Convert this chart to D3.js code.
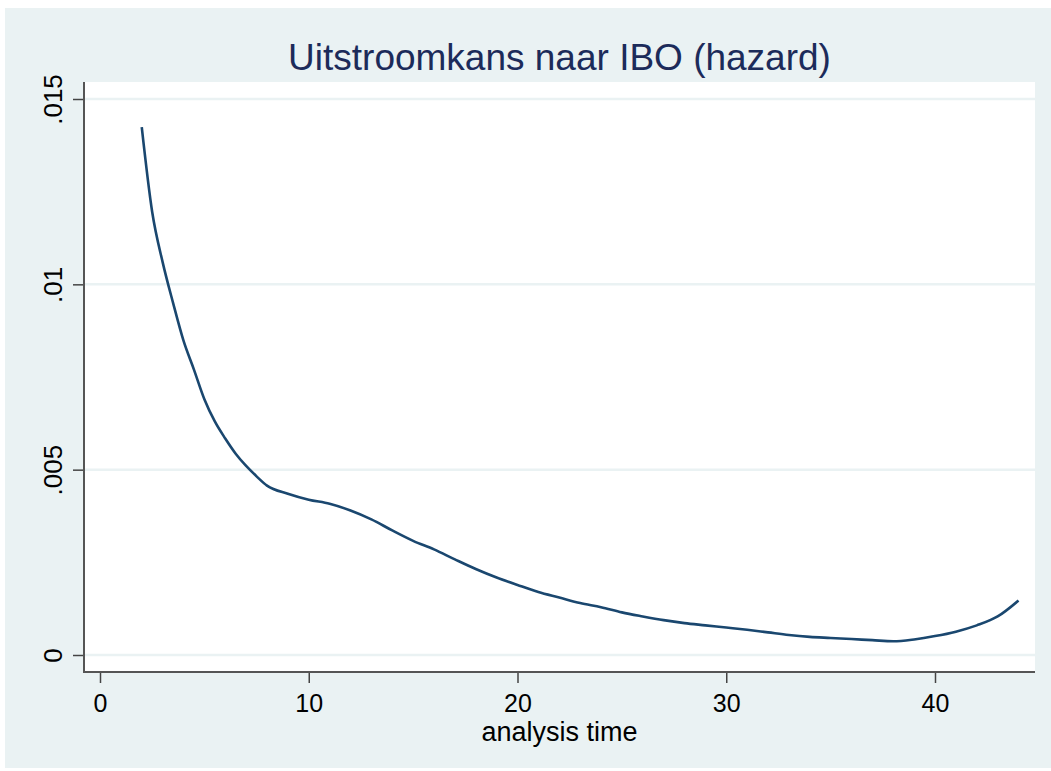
<!DOCTYPE html>
<html>
<head>
<meta charset="utf-8">
<script src="https://cdn.jsdelivr.net/npm/d3@7"></script>
<style>
  body { margin: 0; background: #fff; }
  text { font-family: "Liberation Sans", Arial, sans-serif; }
</style>
</head>
<body>
<div id="chart"></div>
<script>
// analysis time and smoothed hazard
var times  = [2, 2.5, 3, 3.5, 4, 4.5, 5, 5.5, 6, 6.5, 7, 7.5, 8, 9, 10, 11, 12, 13, 14, 15, 16, 17, 18, 19, 20,
              21, 22, 23, 24, 25, 26, 27, 28, 29, 30, 31, 32, 33, 34, 35, 36, 37, 38, 39, 40, 41, 42, 43, 44];
var hazard = [.01424, .01195, .0106, .0095, .00848, .0077, .0069, .0063, .00584, .00543, .0051, .00482, .00457,
              .00435, .00419, .00408, .0039, .00366, .00336, .00308, .00285, .00258, .00232, .00209, .00189,
              .0017, .00155, .0014, .00129, .00115, .00104, .00094, .00086, .0008, .00074, .00068, .00061,
              .00054, .00049, .00046, .00043, .0004, .00037, .00042, .00051, .00063, .0008, .00104, .00147];
var xTicks = [0, 10, 20, 30, 40];
var yTicks = [0, .005, .01, .015];
var yTickLabels = ["0", ".005", ".01", ".015"];

var W = 1051, H = 771;
var plot = {left: 84, top: 82, right: 1035, bottom: 672};

var svg = d3.select('#chart').append('svg')
    .attr('width', W).attr('height', H);

// outer graph region
svg.append('rect')
    .attr('x', 5).attr('y', 8).attr('width', W - 5).attr('height', 760)
    .attr('fill', '#eaf2f3');

// plot region
svg.append('rect')
    .attr('x', plot.left).attr('y', plot.top)
    .attr('width', plot.right - plot.left).attr('height', plot.bottom - plot.top)
    .attr('fill', '#fff');

var x = d3.scaleLinear().domain([0, 40]).range([100, 935]);
var y = d3.scaleLinear().domain([0, .015]).range([655, 99]);

// gridlines
svg.selectAll('.grid')
    .data(yTicks)
    .enter().append('line')
    .attr('class', 'grid')
    .attr('x1', plot.left).attr('x2', plot.right)
    .attr('y1', function(d) { return y(d) }).attr('y2', function(d) { return y(d) })
    .attr('stroke', '#eaf2f3').attr('stroke-width', 2.5);

// the hazard curve
var line = d3.line()
    .x(function(d, i) { return x(times[i]) })
    .y(function(d) { return y(d) })
    .curve(d3.curveMonotoneX);

svg.append('path')
    .datum(hazard)
    .attr('d', line)
    .attr('fill', 'none')
    .attr('stroke', '#1a476f')
    .attr('stroke-width', 2.6)
    .attr('stroke-linejoin', 'round');

// y axis
var yAxis = d3.axisLeft(y)
    .tickValues(yTicks)
    .tickSize(11)
    .tickPadding(0)
    .tickFormat(function(d, i) { return yTickLabels[i] });

var gy = svg.append('g')
    .attr('transform', 'translate(' + plot.left + ',0)')
    .call(yAxis);
gy.select('.domain').remove();
gy.selectAll('.tick line').attr('stroke', '#444').attr('stroke-width', 1.5);
gy.selectAll('.tick text')
    .attr('x', 0).attr('y', 0)
    .attr('dy', 0)
    .attr('transform', 'translate(-22,0) rotate(-90)')
    .attr('text-anchor', 'middle')
    .attr('fill', '#000')
    .style('font-size', '26px');

// x axis
var xAxis = d3.axisBottom(x)
    .tickValues(xTicks)
    .tickSize(11)
    .tickFormat(d3.format('d'));

var gx = svg.append('g')
    .attr('transform', 'translate(0,' + plot.bottom + ')')
    .call(xAxis);
gx.select('.domain').remove();
gx.selectAll('.tick line').attr('stroke', '#444').attr('stroke-width', 1.5);
gx.selectAll('.tick text')
    .attr('y', 40).attr('dy', 0)
    .attr('fill', '#000')
    .style('font-size', '25px');

// axis lines
svg.append('line')
    .attr('x1', plot.left).attr('x2', plot.left)
    .attr('y1', plot.top).attr('y2', plot.bottom + 1)
    .attr('stroke', '#555').attr('stroke-width', 2);
svg.append('line')
    .attr('x1', plot.left - 1).attr('x2', plot.right)
    .attr('y1', plot.bottom).attr('y2', plot.bottom)
    .attr('stroke', '#555').attr('stroke-width', 2);

// axis title
svg.append('text')
    .attr('x', (plot.left + plot.right) / 2).attr('y', 741)
    .attr('text-anchor', 'middle')
    .style('font-size', '27px')
    .text('analysis time');

// title
svg.append('text')
    .attr('x', (plot.left + plot.right) / 2).attr('y', 70)
    .attr('text-anchor', 'middle')
    .attr('fill', '#1c2b5a')
    .style('font-size', '37px')
    .text('Uitstroomkans naar IBO (hazard)');
</script>
</body>
</html>
